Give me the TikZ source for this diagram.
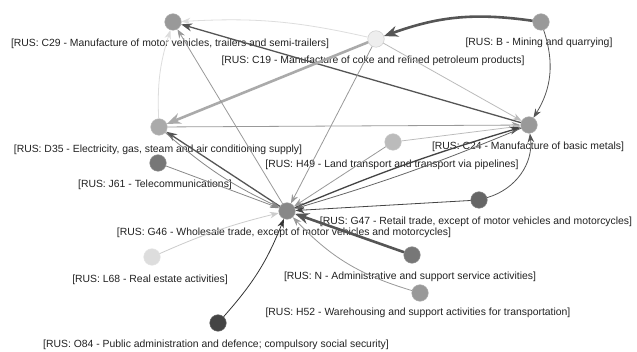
\documentclass[tikz,border=0pt]{standalone}
\usepackage{fontspec}
\setmainfont{Liberation Sans}
\usetikzlibrary{arrows.meta}
\definecolor{g22}{HTML}{222222}
\definecolor{g33}{HTML}{333333}
\definecolor{g44}{HTML}{444444}
\definecolor{g55}{HTML}{555555}
\definecolor{g66}{HTML}{666666}
\definecolor{g77}{HTML}{777777}
\definecolor{g88}{HTML}{888888}
\definecolor{g99}{HTML}{999999}
\definecolor{gaa}{HTML}{AAAAAA}
\definecolor{gbb}{HTML}{BBBBBB}
\definecolor{gcc}{HTML}{CCCCCC}
\definecolor{gdd}{HTML}{DDDDDD}
\definecolor{gee}{HTML}{EEEEEE}
\begin{document}
\begin{tikzpicture}[x=1pt,y=-1pt,
  nd/.style={circle,minimum size=16.5pt,inner sep=0pt,fill=#1,draw=#1!85!white,line width=0.5pt},
  lab/.style={font=\fontsize{10.4}{12}\selectfont,text=g22,inner sep=0pt,anchor=center},
  ed/.style={draw=#1,line width=0.8pt,-{Stealth[length=9pt,width=6.5pt]}},
  edm/.style={draw=#1,line width=1.3pt,-{Stealth[length=11pt,width=8pt]}},
  edt/.style={draw=#1,line width=2.6pt,-{Stealth[length=14pt,width=11pt]}}]
\useasboundingbox (0,0) rectangle (637,352);
\fill[white] (0,0) rectangle (637,352);
% labels
\node[lab] (lC29) at (170,44) {[RUS: C29 - Manufacture of motor vehicles, trailers and semi-trailers]};
\node[lab] (lC19) at (373,61) {[RUS: C19 - Manufacture of coke and refined petroleum products]};
\node[lab] (lB) at (539,43) {[RUS: B - Mining and quarrying]};
\node[lab] (lD35) at (158,150) {[RUS: D35 - Electricity, gas, steam and air conditioning supply]};
\node[lab] (lC24) at (528,147) {[RUS: C24 - Manufacture of basic metals]};
\node[lab] (lH49) at (392,165) {[RUS: H49 - Land transport and transport via pipelines]};
\node[lab] (lJ61) at (155,185) {[RUS: J61 - Telecommunications]};
\node[lab] (lG46) at (284,233) {[RUS: G46 - Wholesale trade, except of motor vehicles and motorcycles]};
\node[lab] (lG47) at (476,222) {[RUS: G47 - Retail trade, except of motor vehicles and motorcycles]};
\node[lab] (lL68) at (150,280) {[RUS: L68 - Real estate activities]};
\node[lab] (lN) at (410,277) {[RUS: N - Administrative and support service activities]};
\node[lab] (lH52) at (418,313) {[RUS: H52 - Warehousing and support activities for transportation]};
\node[lab] (lO84) at (216,345) {[RUS: O84 - Public administration and defence; compulsory social security]};
% nodes
\node[nd=g99] (C29) at (173,22) {};
\node[nd=gee,draw=gcc] (C19) at (376,39) {};
\node[nd=g99] (B) at (541,22) {};
\node[nd=gaa] (D35) at (159,127) {};
\node[nd=g99] (C24) at (529,125) {};
\node[nd=gbb] (H49) at (393,142) {};
\node[nd=g77] (J61) at (158,163) {};
\node[nd=g88] (G46) at (287,211) {};
\node[nd=g66] (G47) at (479,200) {};
\node[nd=gdd] (L68) at (152,257) {};
\node[nd=g77] (N) at (412,255) {};
\node[nd=g99] (H52) at (420,293) {};
\node[nd=g44] (O84) at (218,323) {};
% edges
\draw[edt=g55] (B) to[bend right=14] (C19);
\draw[ed=g55] (B) to[bend left=25] (C24);
\draw[edm=g55] (C24) -- (C29);
\draw[ed=gdd] (C19) to[bend right=8] (C29);
\draw[edt=gaa] (C19) -- (D35);
\draw[ed=gbb] (C19) -- (C24);
\draw[ed=g99] (C19) -- (G46);
\draw[ed=gdd] (D35) to[bend left=10] (C29);
\draw[ed=g99] (G46) -- (C29);
\draw[ed=g99] (D35) -- (C24);
\draw[edm=g55] (G46) -- (D35);
\draw[ed=g88] (D35) to[bend right=8] (G46);
\draw[ed=g88] (J61) -- (G46);
\draw[ed=g99] (H49) -- (G46);
\draw[ed=gbb] (H49) -- (C24);
\draw[edm=g44] (G46) to[bend left=3] (C24);
\draw[ed=g66] (C24) to[bend left=3] (G46);
\draw[ed=g44] (G47) -- (G46);
\draw[ed=g55] (G47) to[bend right=40] (C24);
\draw[ed=gcc] (L68) to[bend left=5] (G46);
\draw[ed=g33] (O84) to[bend right=10] (G46);
\draw[edt=g55] (N) -- (G46);
\draw[ed=g99] (H52) to[bend left=15] (G46);
\end{tikzpicture}
\end{document}
